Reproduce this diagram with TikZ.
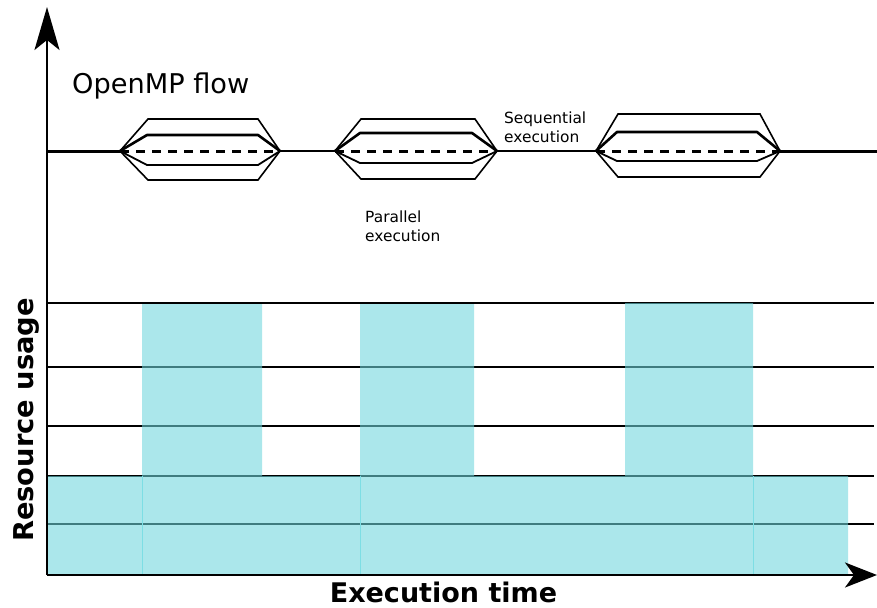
\documentclass[tikz,border=0pt]{standalone}
\usepackage{fontspec}
\setmainfont{DejaVu Sans}
\usetikzlibrary{arrows.meta}
\definecolor{barfill}{RGB}{110,214,220}
\definecolor{seam}{RGB}{125,222,228}
\tikzset{
  grid line/.style={line width=1.2pt, black},
  axis/.style={line width=2.4pt, black},
  outer hex/.style={line width=1.6pt, black, line join=miter},
  inner top/.style={line width=2.6pt, black, line join=round},
  inner bot/.style={line width=1.8pt, black},
  par dash/.style={line width=3pt, black, dash pattern=on 9pt off 7pt},
  small label/.style={font=\fontsize{15.4}{19}\selectfont, align=left, inner sep=0pt},
}
\begin{document}
\begin{tikzpicture}[x=1pt,y=-1pt]
\useasboundingbox (0,0) rectangle (877,607);
% grid lines
\foreach \yy in {303,367,426,476,524} \draw[grid line] (47,\yy) -- (874,\yy);
% resource bars (union)
\fill[barfill, fill opacity=0.58] (47,575) -- (47,476) -- (142,476) -- (142,304) -- (262,304) -- (262,476)
  -- (360,476) -- (360,304) -- (474,304) -- (474,476) -- (625,476) -- (625,303) -- (753,303)
  -- (753,476) -- (848,476) -- (848,575) -- cycle;
\foreach \xx in {142,360,753} \draw[seam, line width=0.8pt] (\xx,476) -- (\xx,575);
% axes
\coordinate (o) at (47,575);
\coordinate (ytip) at (47,7);
\coordinate (xtip) at (877,575);
\draw[axis, -{Stealth[length=43pt,width=25pt,inset=10pt]}] (o) -- (ytip);
\draw[axis, -{Stealth[length=32pt,width=25pt,inset=9pt]}] (o) -- (xtip);
% flow line
\coordinate (f0) at (47,151);
\coordinate (f1) at (877,151);
\coordinate (L1) at (120,151); \coordinate (R1) at (280,151);
\coordinate (L2) at (335,151); \coordinate (R2) at (497,151);
\coordinate (L3) at (596,151); \coordinate (R3) at (780,151);
\draw[line width=3pt] (f0) -- (L1);
\draw[line width=2pt] (R1) -- (L2);
\draw[line width=2pt] (R2) -- (L3);
\draw[line width=3pt] (R3) -- (f1);
% blob 1
\draw[outer hex] (L1) -- (148,119) -- (258,119) -- (R1) -- (258,180) -- (148,180) -- cycle;
\draw[inner top] (L1) -- (147,135) -- (258,135) -- (R1);
\draw[inner bot] (L1) -- (147,165) -- (258,165) -- (R1);
\draw[par dash] (L1) -- (R1);
% blob 2
\draw[outer hex] (L2) -- (361,119) -- (475,119) -- (R2) -- (475,179) -- (361,179) -- cycle;
\draw[inner top] (L2) -- (360,133) -- (472,133) -- (R2);
\draw[inner bot] (L2) -- (360,163) -- (472,163) -- (R2);
\draw[par dash] (L2) -- (R2);
% blob 3
\draw[outer hex] (L3) -- (618,114) -- (760,114) -- (R3) -- (760,177) -- (618,177) -- cycle;
\draw[inner top] (L3) -- (617,132) -- (757,132) -- (R3);
\draw[inner bot] (L3) -- (617,161) -- (757,161) -- (R3);
\draw[par dash] (L3) -- (R3);
% labels
\node[anchor=base west, inner sep=0pt, font=\fontsize{27.2}{30}\selectfont] (title) at (72,94) {OpenMP flow};
\node[small label, anchor=base west] (seq) at (504,142) {Sequential\\execution};
\node[small label, anchor=base west] (par) at (365,241) {Parallel\\execution};
\node[anchor=base, inner sep=0pt, font=\fontsize{27}{30}\selectfont\bfseries] (xl) at (443.5,602) {Execution time};
\node[anchor=base, inner sep=0pt, rotate=90, font=\fontsize{27.3}{30}\selectfont\bfseries] (yl) at (33,420) {Resource usage};
\end{tikzpicture}
\end{document}
